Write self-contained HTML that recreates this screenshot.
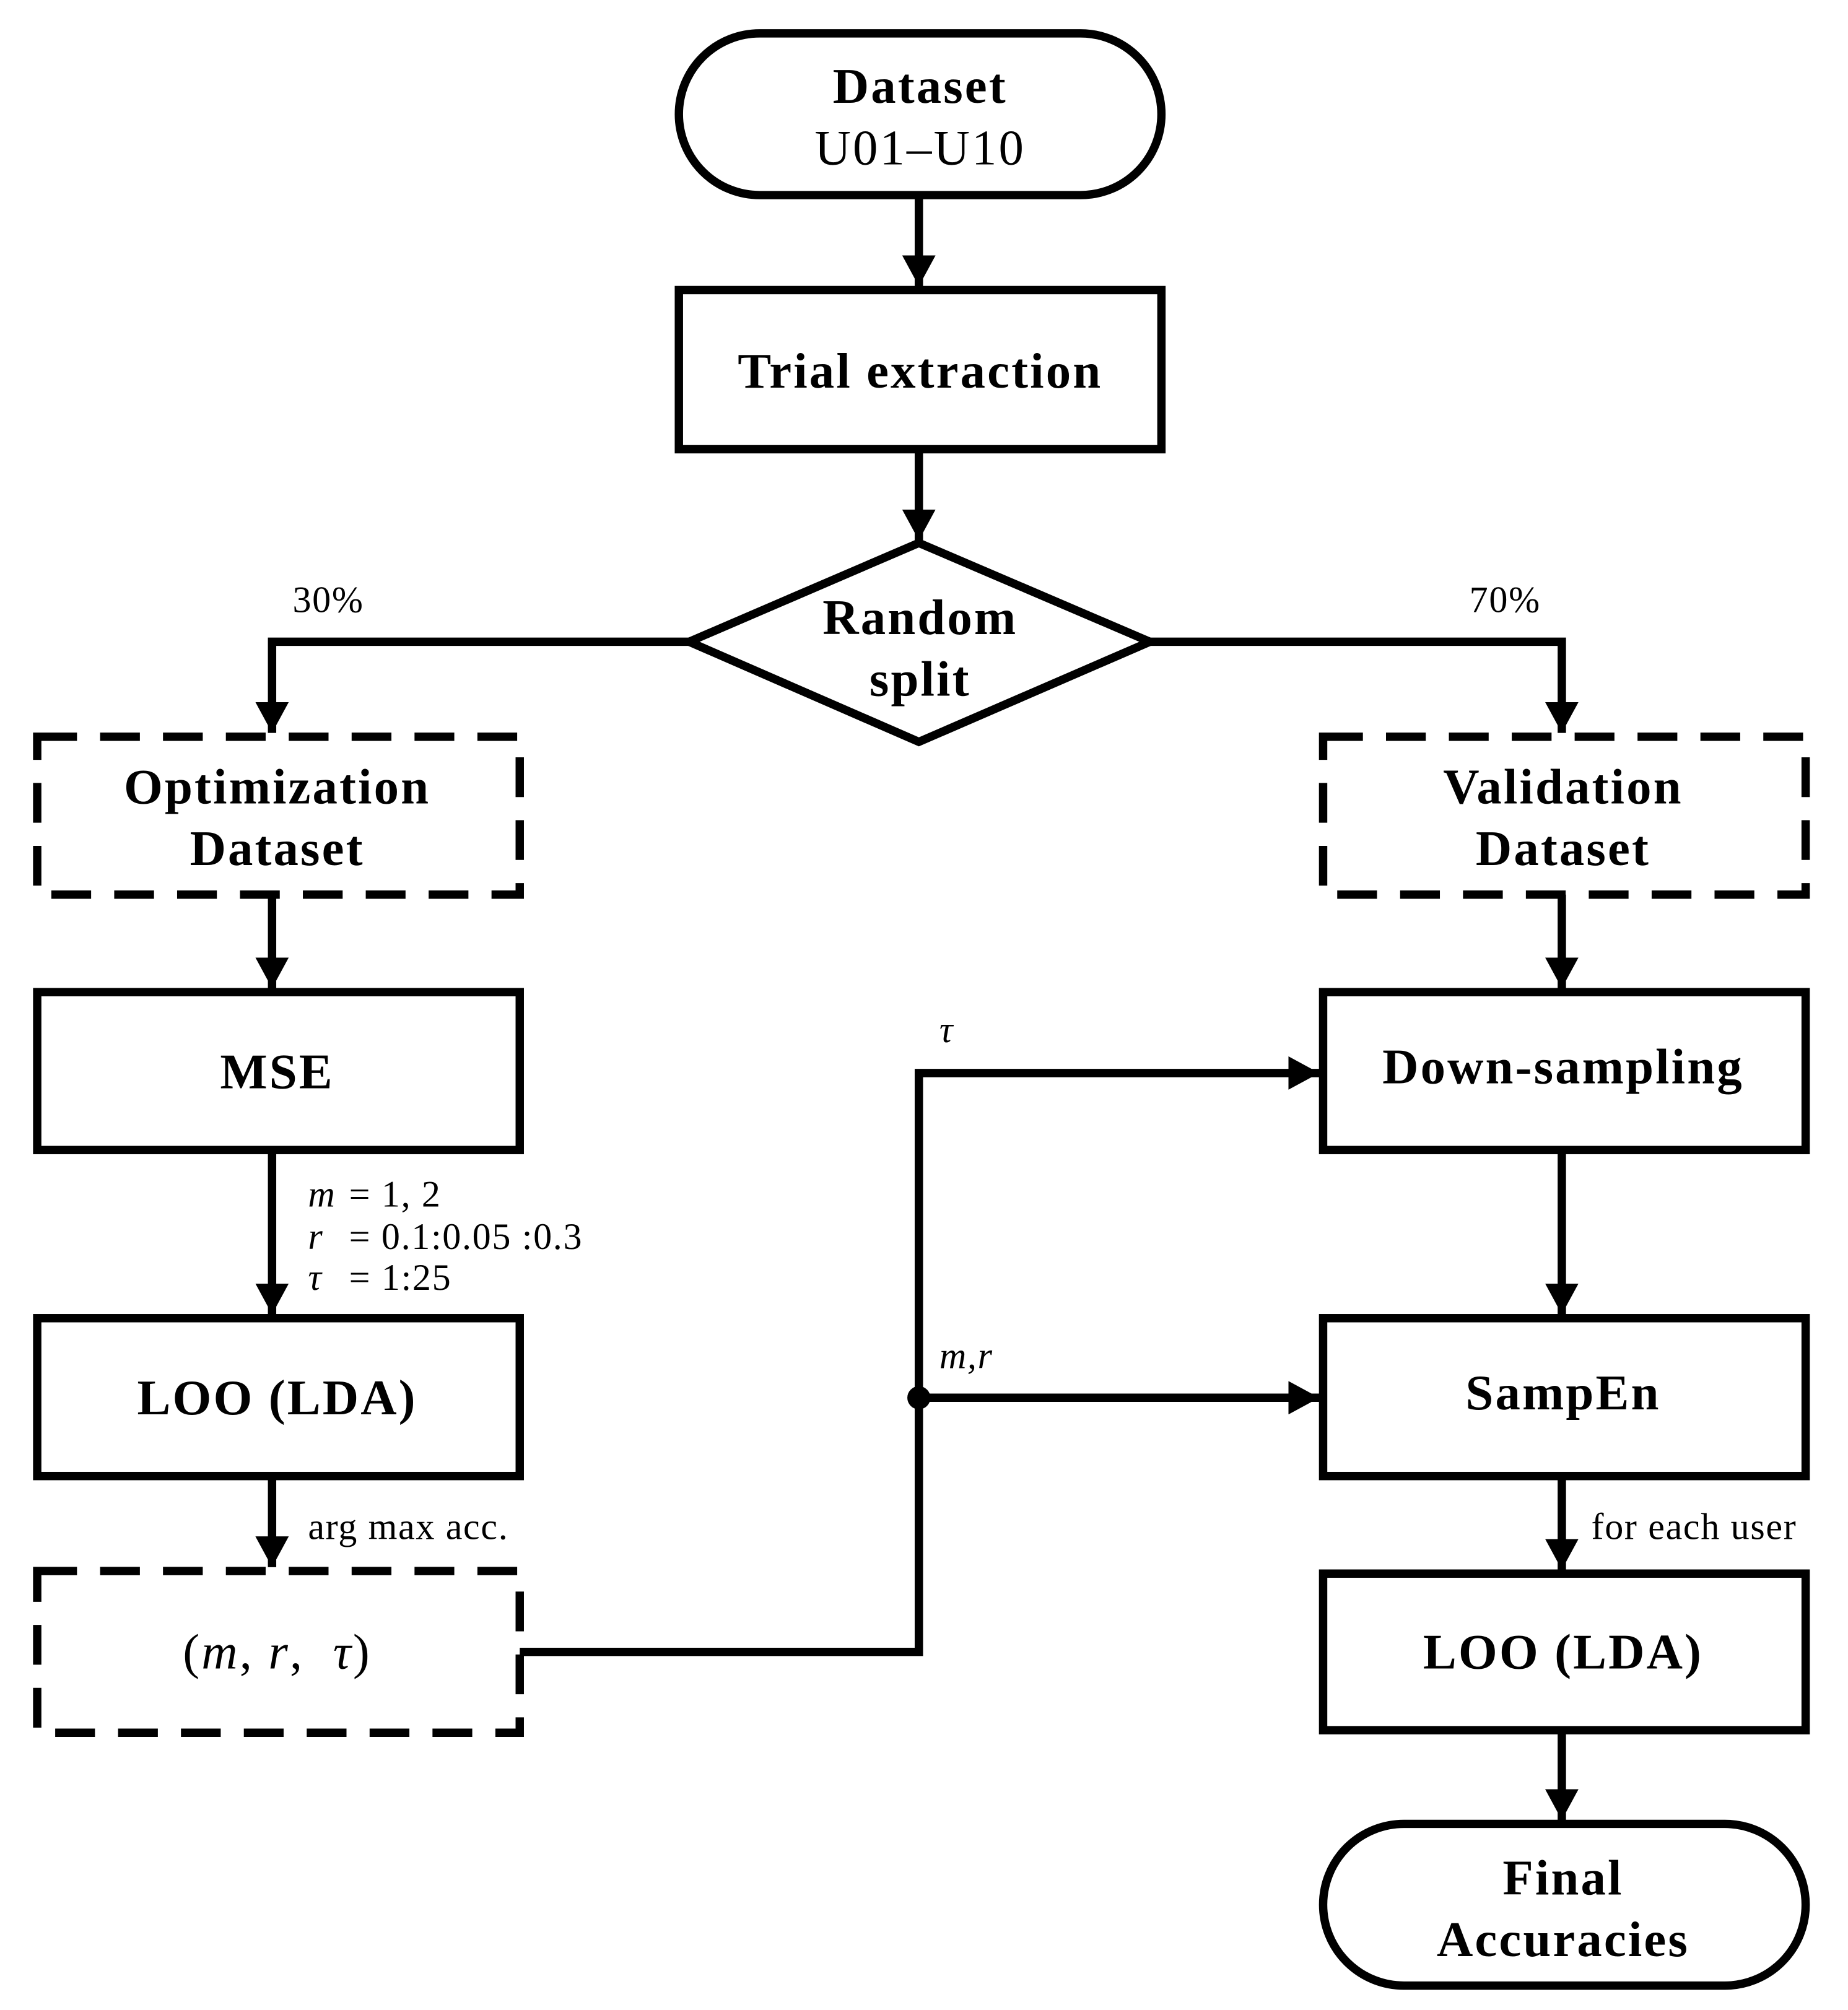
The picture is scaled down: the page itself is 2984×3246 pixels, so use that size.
<!DOCTYPE html>
<html><head><style>html,body{margin:0;padding:0;background:#fff}svg{display:block}</style></head>
<body>
<svg width="2984" height="3246" viewBox="0 0 1440 1566" preserveAspectRatio="none" xmlns="http://www.w3.org/2000/svg">
<defs>
<marker id="a" markerUnits="userSpaceOnUse" markerWidth="24" markerHeight="26" refX="24" refY="13" orient="auto">
<path d="M0,0 L24,13 L0,26 Z" fill="#000"/></marker>
</defs>
<g fill="none" stroke="#000" stroke-width="6.5">
<rect x="529" y="26" width="376" height="126" rx="63"/>
<rect x="529" y="226" width="376" height="124"/>
<polygon points="537,500 716,423 896,500 716,578"/>
<rect x="29" y="574" width="376" height="123" stroke-dasharray="31 18"/>
<rect x="1031" y="574" width="376" height="123" stroke-dasharray="31 18"/>
<rect x="29" y="773" width="376" height="123"/>
<rect x="1031" y="773" width="376" height="123"/>
<rect x="29" y="1027" width="376" height="123"/>
<rect x="1031" y="1027" width="376" height="123"/>
<rect x="29" y="1224" width="376" height="126" stroke-dasharray="31 18"/>
<rect x="1031" y="1226" width="376" height="122"/>
<rect x="1031" y="1421" width="376" height="126" rx="63"/>
<g marker-end="url(#a)">
<line x1="716" y1="152" x2="716" y2="223"/>
<line x1="716" y1="350" x2="716" y2="421"/>
<polyline points="537,500 212,500 212,571"/>
<polyline points="896,500 1217,500 1217,571"/>
<line x1="212" y1="697" x2="212" y2="770"/>
<line x1="1217" y1="697" x2="1217" y2="770"/>
<line x1="212" y1="896" x2="212" y2="1024"/>
<line x1="1217" y1="896" x2="1217" y2="1024"/>
<line x1="212" y1="1150" x2="212" y2="1221"/>
<line x1="1217" y1="1150" x2="1217" y2="1223"/>
<line x1="1217" y1="1348" x2="1217" y2="1418"/>
<polyline points="405,1287 716,1287 716,836 1028,836"/>
<line x1="716" y1="1089" x2="1028" y2="1089"/>
</g>
</g>
<circle cx="716" cy="1089" r="9" fill="#000"/>
<g font-family="Liberation Serif, serif" text-anchor="middle" font-size="39" font-weight="bold" letter-spacing="1.5">
<text x="717" y="80">Dataset</text>
<text x="717" y="128" font-weight="normal">U01–U10</text>
<text x="717" y="302">Trial extraction</text>
<text x="717" y="494">Random</text>
<text x="717" y="542">split</text>
<text x="216" y="626">Optimization</text>
<text x="216" y="674">Dataset</text>
<text x="1218" y="626">Validation</text>
<text x="1218" y="674">Dataset</text>
<text x="216" y="848">MSE</text>
<text x="1218" y="844">Down-sampling</text>
<text x="216" y="1102">LOO (LDA)</text>
<text x="1218" y="1098">SampEn</text>
<text x="1218" y="1300">LOO (LDA)</text>
<text x="216" y="1300" font-weight="normal" xml:space="preserve">(<tspan font-style="italic">m</tspan>, <tspan font-style="italic">r</tspan>,  <tspan font-style="italic">τ</tspan>)</text>
<text x="1218" y="1476">Final</text>
<text x="1218" y="1524">Accuracies</text>
</g>
<g font-family="Liberation Serif, serif" font-size="29" letter-spacing="0.8">
<text x="228" y="477">30%</text>
<text x="1145" y="477">70%</text>
<text x="240" y="940" font-style="italic">m</text>
<text x="240" y="973" font-style="italic">r</text>
<text x="240" y="1005" font-style="italic">τ</text>
<text x="272" y="940">= 1, 2</text>
<text x="272" y="973">= 0.1:0.05 :0.3</text>
<text x="272" y="1005">= 1:25</text>
<text x="240" y="1199">arg max acc.</text>
<text x="1240" y="1199">for each user</text>
<text x="732" y="812" font-style="italic">τ</text>
<text x="732" y="1066" font-style="italic">m,r</text>
</g>
</svg>
</body></html>
